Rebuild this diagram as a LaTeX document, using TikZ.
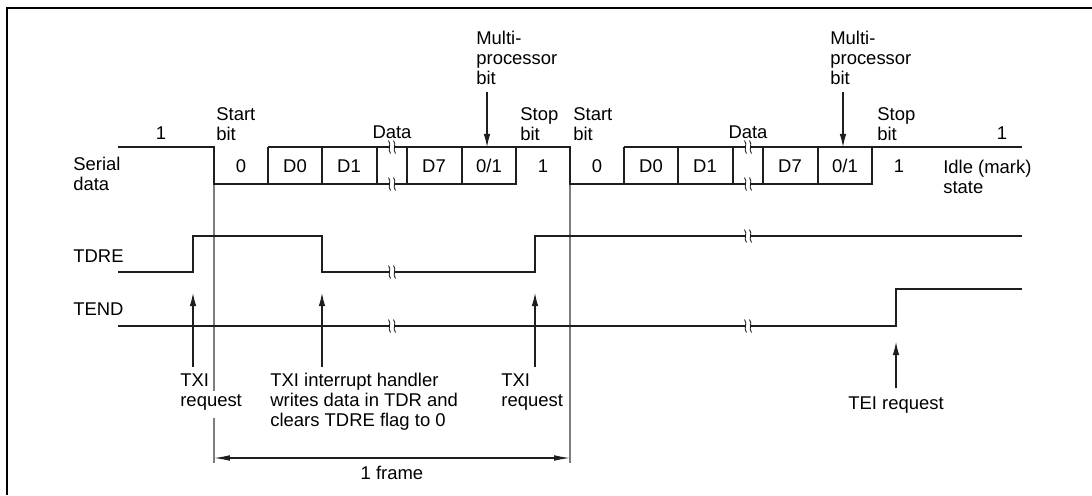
\documentclass[tikz,border=0pt]{standalone}
\usepackage{fontspec}
\setmainfont{Liberation Sans}
\usetikzlibrary{arrows.meta, calc}
\definecolor{sigline}{RGB}{30,30,30}
\definecolor{refline}{RGB}{125,125,125}
\tikzset{
  sig/.style={draw=sigline, line width=0.8pt},
  refl/.style={draw=refline, line width=0.6pt},
  lbl/.style={inner sep=0pt, anchor=north west, align=left,
    font=\fontsize{10.5}{11.4}\selectfont},
  baselbl/.style={inner sep=0pt, anchor=base,
    font=\fontsize{10.5}{11.4}\selectfont},
  evarrow/.style={draw=sigline, line width=0.6pt, -{Latex[length=7.5pt,width=3.8pt]}},
  dimarrow/.style={draw=sigline, line width=0.6pt,
    {Latex[length=9pt,width=3.2pt]}-{Latex[length=9pt,width=3.2pt]}},
  brk/.pic={
    \fill[white] (-2,-6) rectangle (2,6);
    \draw[sigline, line width=0.5pt] (-3.5,-6.5) .. controls (0,-2) and (-5,2) .. (-1.5,6.5);
    \draw[sigline, line width=0.5pt] (1.5,-6.5) .. controls (5,-2) and (0,2) .. (3.5,6.5);
  },
}

\begin{document}
\begin{tikzpicture}[x=0.02cm, y=-0.02cm]
  \useasboundingbox (0,0) rectangle (1092,495);

  % Frame
  \draw[line width=1.2pt] (7,495) -- (7,8) -- (1092,8);

  % Reference lines for one frame
  \draw[refl] (214,184) -- (214,391);
  \draw[refl] (214,418) -- (214,463);
  \draw[refl] (570,184) -- (570,463);

  % Serial data
  \node[lbl] (sdlbl) at (73,157) {Serial\\data};
  \draw[sig] (118,147) -| (214,184) -| (516,147) -| (570,184) -| (872,147) -- (1022,147);
  \draw[sig] (268,147) -- (516,147);
  \draw[sig] (624,147) -- (872,147);
  \foreach \x in {268,322,377,407,462,624,678,733,763,818} {
    \draw[sig] (\x,147) -- (\x,184);
  }
  \foreach \x/\t in {241/0, 295/D0, 349/D1, 434/D7, 489/0\slash 1, 543/1,
                     597/0, 651/D0, 705/D1, 790/D7, 845/0\slash 1, 899/1} {
    \node[baselbl] at (\x,172) {\t};
  }
  \node[lbl] (idlelbl) at (943,160) {Idle (mark)\\state};

  % Bit names above the frame
  \node[baselbl] (mark1) at (161,139) {1};
  \node[baselbl] (mark2) at (1002,139) {1};
  \node[lbl] (start1) at (216,107) {Start\\bit};
  \node[lbl] (start2) at (573,107) {Start\\bit};
  \node[baselbl] (data1) at (392,138) {Data};
  \node[baselbl] (data2) at (748,138) {Data};
  \node[lbl] (stop1) at (520,107) {Stop\\bit};
  \node[lbl] (stop2) at (877,107) {Stop\\bit};
  \node[lbl] (mp1) at (476,31) {Multi-\\processor\\bit};
  \node[lbl] (mp2) at (830,31) {Multi-\\processor\\bit};
  \coordinate (mp1s) at (487,92);
  \coordinate (mp1e) at (487,147);
  \coordinate (mp2s) at (843,92);
  \coordinate (mp2e) at (843,147);
  \draw[evarrow] (mp1s) -- (mp1e);
  \draw[evarrow] (mp2s) -- (mp2e);

  % TDRE
  \node[baselbl, anchor=base west] (tdrelbl) at (73,262) {TDRE};
  \draw[sig] (118,272) -| (193,236) -| (322,272) -| (535,236) -- (1022,236);

  % TEND
  \node[baselbl, anchor=base west] (tendlbl) at (73,315) {TEND};
  \draw[sig] (118,326) -| (896,289) -- (1022,289);

  % Breaks
  \foreach \x/\y in {392/147, 392/184, 748/147, 748/184,
                     392/272, 748/236, 392/326, 748/326} {
    \pic at (\x,\y) {brk};
  }

  % Interrupt requests
  \node[lbl] (txi1) at (180,373) {TXI\\request};
  \node[lbl] (txih) at (270,373) {TXI interrupt handler\\writes data in TDR and\\clears TDRE flag to 0};
  \node[lbl] (txi2) at (501,373) {TXI\\request};
  \node[baselbl] (tei) at (896,409) {TEI request};
  \foreach \n/\x in {a/193, b/322, c/535} {
    \coordinate (txi\n s) at (\x,367);
    \coordinate (txi\n e) at (\x,293);
    \draw[evarrow] (txi\n s) -- (txi\n e);
  }
  \coordinate (teis) at (896,388);
  \coordinate (teie) at (896,342);
  \draw[evarrow] (teis) -- (teie);

  % One frame
  \coordinate (fra) at (214,458);
  \coordinate (frb) at (570,458);
  \draw[dimarrow] (fra) -- (frb);
  \node[baselbl] (framelbl) at (392,479) {1 frame};

\end{tikzpicture}
\end{document}
